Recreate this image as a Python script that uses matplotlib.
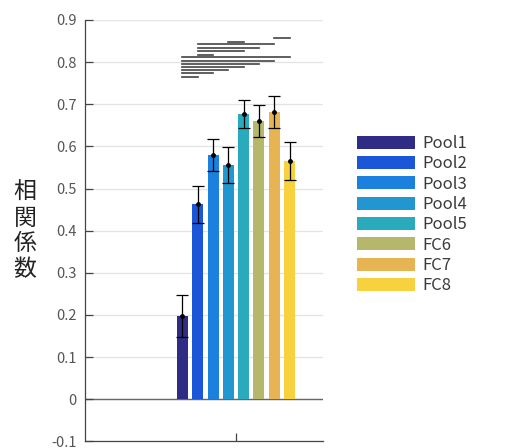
import numpy as np
import matplotlib.pyplot as plt

plt.rcParams['font.family'] = ['Noto Sans CJK JP', 'DejaVu Sans']

# ------------------------------
# data
layers = ['Pool1', 'Pool2', 'Pool3', 'Pool4', 'Pool5', 'FC6', 'FC7', 'FC8']
means = [0.198, 0.463, 0.580, 0.556, 0.677, 0.660, 0.682, 0.566]
errs = [0.050, 0.044, 0.038, 0.043, 0.033, 0.038, 0.038, 0.045]
colors = ['#2f2c86', '#1b56d8', '#1b80de', '#2196d0', '#29abbd',
          '#b5b86a', '#e6b452', '#f8d13f']
# significance brackets: from bar, to bar, height
sig_from = [6, 3, 1, 1, 1, 1, 0, 0, 0, 0, 0, 0, 0]
sig_to = [7, 4, 6, 5, 4, 2, 7, 6, 5, 4, 3, 2, 1]
sig_y = [0.857, 0.847, 0.842, 0.834, 0.826, 0.818, 0.813,
         0.803, 0.796, 0.788, 0.781, 0.773, 0.765]
yticks = [-0.1, 0, 0.1, 0.2, 0.3, 0.4, 0.5, 0.6, 0.7, 0.8, 0.9]
ylabel = '相\n関\n係\n数'
# ------------------------------

fig = plt.figure(figsize=(5.05, 4.48), dpi=100)
ax = fig.add_axes([0.1683, 0.0150, 0.4707, 0.9404])

step = 0.1
x = 1 + (np.arange(len(layers)) - (len(layers) - 1) / 2) * step

for yy in yticks:
    ax.axhline(yy, color='#e3e3e3', lw=0.9, zorder=0)
ax.axhline(0, color='#666666', lw=1.0, zorder=1)

bars = ax.bar(x, means, width=0.072, color=colors, label=layers, zorder=2)
ax.errorbar(x, means, yerr=errs, fmt='o', color='black', ms=2.5,
            capsize=4.3, elinewidth=0.9, capthick=0.9, zorder=3)

for a, b, yy in zip(sig_from, sig_to, sig_y):
    ax.plot([x[a], x[b]], [yy, yy], color='#444444', lw=1.2, zorder=3)

ax.set_ylim(-0.1, 0.9)
ax.set_xlim(1 - 151 / 153, 1 + 86.7 / 153)
ax.set_yticks(yticks)
ax.set_yticklabels(['%g' % t for t in yticks])
ax.set_xticks([1])
ax.set_xticklabels([''])
ax.tick_params(axis='both', direction='in', length=6, width=0.9,
               colors='#444444', labelcolor='#555555', labelsize=10.5, pad=6)
ax.spines['top'].set_visible(False)
ax.spines['right'].set_visible(False)
for s in ['left', 'bottom']:
    ax.spines[s].set_color('#444444')
    ax.spines[s].set_linewidth(0.9)

fig.text(25 / 505, 1 - 231 / 448, ylabel, ha='center', va='center',
         fontsize=16.5, linespacing=1.15, color='#222222')

fig.legend(handles=bars, labels=layers, loc='upper left',
           bbox_to_anchor=(357 / 505, 1 - 135 / 448), frameon=False,
           fontsize=12, handlelength=3.5, handleheight=0.8,
           handletextpad=0.4, labelspacing=0.2, borderpad=0,
           borderaxespad=0, labelcolor='#3a3a3a')

plt.savefig('out.png', dpi=100)
